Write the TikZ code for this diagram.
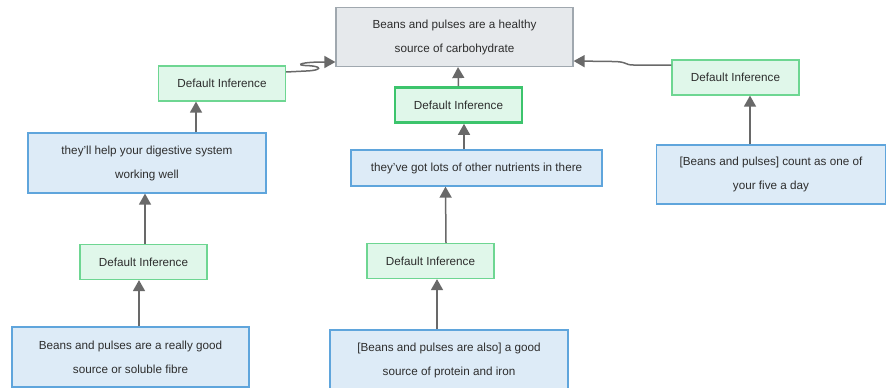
\documentclass[tikz,border=0pt]{standalone}
\usepackage{fontspec}
\setmainfont{Liberation Sans}
\usetikzlibrary{arrows.meta}
\definecolor{claimfill}{RGB}{230,233,236}
\definecolor{claimline}{RGB}{160,168,175}
\definecolor{premfill}{RGB}{221,235,247}
\definecolor{premline}{RGB}{95,165,220}
\definecolor{inffill}{RGB}{224,247,234}
\definecolor{infline}{RGB}{110,214,146}
\definecolor{infbold}{RGB}{60,196,108}
\definecolor{linkgray}{RGB}{105,105,105}
\definecolor{txtgray}{RGB}{45,45,45}
\tikzset{
  box/.style={draw,rectangle,align=center,inner sep=0pt,line width=1.2pt,
    text=txtgray,font=\fontsize{11.7}{24}\selectfont},
  claim/.style={box,fill=claimfill,draw=claimline},
  premise/.style={box,fill=premfill,draw=premline},
  infer/.style={box,fill=inffill,draw=infline,minimum width=127pt,minimum height=35pt},
  inferbold/.style={infer,draw=infbold,line width=2.6pt},
  link/.style={draw=linkgray,line width=1.5pt,-{Triangle[width=12pt,length=11pt]}}
}
\begin{document}
\begin{tikzpicture}[x=1pt,y=-1pt]
\useasboundingbox (0,0) rectangle (886,388);
%%%% Claim at the top
    \node[claim,minimum width=237pt,minimum height=59pt] (c0) at (454.5,37)
      {Beans and pulses are a healthy\\source of carbohydrate};
%%%% Inference nodes
    \node[infer] (di1) at (222,83.5) {Default Inference};
    \node[inferbold] (di2) at (458.5,105) {Default Inference};
    \node[infer] (di3) at (735.5,77.5) {Default Inference};
    \node[infer] (di4) at (143.5,262) {Default Inference};
    \node[infer] (di5) at (430.5,261) {Default Inference};
%%%% Sub-claims and premises
    \node[premise,minimum width=238pt,minimum height=60pt] (c1) at (147,163)
      {they'll help your digestive system\\working well};
    \node[premise,minimum width=251pt,minimum height=36pt] (c2) at (476.5,168)
      {they've got lots of other nutrients in there};
    \node[premise,minimum width=229pt,minimum height=59pt] (p3) at (771,174.5)
      {[Beans and pulses] count as one of\\your five a day};
    \node[premise,minimum width=237pt,minimum height=60pt] (p1) at (130.5,357)
      {Beans and pulses are a really good\\source or soluble fibre};
    \node[premise,minimum width=238pt,minimum height=60pt] (p2) at (449,360)
      {[Beans and pulses are also] a good\\source of protein and iron};
%%%% Links up to the claim
    \draw[link] ([yshift=11.5pt]di1.east) -- ++(20,-1)
      .. controls (322,70.5) and (324,66) .. (305,65.5)
      .. controls (296,65) and (300,62) .. ([yshift=-25pt]c0.west);
    \draw[link] (di2.north) -- ([xshift=3.5pt]c0.south);
    \draw[link] ([yshift=12.5pt]di3.west) -- ++(-38,0)
      .. controls (624,65) and (628,61.5) .. (612,61.5) -- ([yshift=-24pt]c0.east);
%%%% Links between the lower nodes
    \draw[link] ([xshift=49pt]c1.north) -- ([xshift=-26pt]di1.south);
    \draw[link] ([xshift=1.5pt]di4.north) -- ([xshift=-2pt]c1.south);
    \draw[link] ([xshift=8.5pt]p1.north) -- ([xshift=-4.5pt]di4.south);
    \draw[link] ([xshift=-12.5pt]c2.north) -- ([xshift=5.5pt]di2.south);
    \draw[link] ([xshift=15.5pt]di5.north) -- ([xshift=-31pt]c2.south);
    \draw[link] ([xshift=-12pt]p2.north) -- ([xshift=6.5pt]di5.south);
    \draw[link] ([xshift=-21pt]p3.north) -- ([xshift=14.5pt]di3.south);
\end{tikzpicture}
\end{document}
